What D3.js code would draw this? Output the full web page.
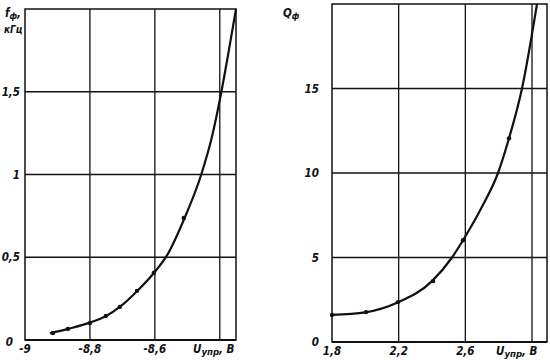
<!DOCTYPE html>
<html><head><meta charset="utf-8">
<script src="https://cdn.jsdelivr.net/npm/d3@7"></script>
<style>
html,body{margin:0;padding:0;background:#fff;}
text{font-family:"DejaVu Sans Condensed","Liberation Sans Narrow",sans-serif;font-style:italic;font-weight:bold;fill:#111;}
</style></head>
<body><svg id="c" width="550" height="361"></svg>
<script>
// ---- Left panel: f_ф (кГц) vs U_упр (В)
const leftCurveX = [-8.923,-8.868,-8.8,-8.75,-8.708,-8.655,-8.603,-8.56,-8.511,-8.457,-8.425,-8.395,-8.372,-8.35];
const leftCurveY = [0.04,0.067,0.105,0.145,0.20,0.295,0.405,0.52,0.725,1.0,1.22,1.5,1.75,2.0];
const leftDotX = [-8.914,-8.868,-8.8,-8.751,-8.708,-8.655,-8.603,-8.511];
const leftDotY = [0.042,0.067,0.103,0.145,0.20,0.297,0.406,0.737];
const leftXTicks = [-9,-8.8,-8.6];
const leftXGrid = [-8.8,-8.6,-8.4];
const leftYTicks = [0,0.5,1,1.5];
const leftYGrid = [0.5,1,1.5];

// ---- Right panel: Q_ф vs U_упр (В)
const rightCurveX = [1.8,2.0,2.2,2.4,2.52,2.586,2.70,2.796,2.862,2.94,3.03];
const rightCurveY = [1.6,1.75,2.36,3.6,5.0,6.02,8.0,10.0,12.05,15.0,20.0];
const rightDotX = [1.8,2.004,2.196,2.406,2.586,2.862];
const rightDotY = [1.6,1.77,2.36,3.6,6.02,12.05];
const rightXTicks = [1.8,2.2,2.6];
const rightXGrid = [2.2,2.6,3.0];
const rightYTicks = [0,5,10,15];
const rightYGrid = [5,10,15];

const loc = d3.formatLocale({decimal:",",thousands:" ",grouping:[3],currency:["",""],minus:"-"});
const fmt = v => loc.format("~g")(v);
const svg = d3.select("#c");

function panel(o){
  const x = d3.scaleLinear().domain(o.xd).range(o.xr);
  const y = d3.scaleLinear().domain(o.yd).range(o.yr);
  const g = svg.append("g");
  const [x0,x1] = o.xr, [y0,y1] = o.yr;
  g.selectAll(".gx").data(o.xGrid).join("line")
    .attr("x1",d=>x(d)).attr("x2",d=>x(d)).attr("y1",y0).attr("y2",y1)
    .attr("stroke","#111").attr("stroke-width",1.3);
  g.selectAll(".gy").data(o.yGrid).join("line")
    .attr("x1",x0).attr("x2",x1).attr("y1",d=>y(d)).attr("y2",d=>y(d))
    .attr("stroke","#111").attr("stroke-width",1.3);
  g.append("rect").attr("x",x0).attr("y",y1).attr("width",x1-x0).attr("height",y0-y1)
    .attr("fill","none").attr("stroke","#111").attr("stroke-width",1.5);
  g.append("line").attr("x1",x0).attr("x2",x1).attr("y1",y0).attr("y2",y0)
    .attr("stroke","#111").attr("stroke-width",2.2);
  const line = d3.line().x(d=>x(d[0])).y(d=>y(d[1])).curve(d3.curveMonotoneX);
  g.append("path").datum(d3.zip(o.cx,o.cy)).attr("d",line)
    .attr("fill","none").attr("stroke","#111").attr("stroke-width",2.2);
  g.selectAll(".dot").data(d3.zip(o.dx,o.dy)).join("circle")
    .attr("cx",d=>x(d[0])).attr("cy",d=>y(d[1])).attr("r",2.2).attr("fill","#111");
  g.selectAll(".tx").data(o.xTicks).join("text")
    .attr("x",d=>x(d)).attr("y",y0+13).attr("text-anchor","middle")
    .attr("font-size",11.5).text(d=>fmt(d));
  g.selectAll(".ty").data(o.yTicks).join("text")
    .attr("x",d=>o.yLabX + (d===0?o.zeroDx:0)).attr("y",d=>y(d)+4+(d===0?o.zeroDy:0)).attr("text-anchor","end")
    .attr("font-size",11.5).text(d=>fmt(d));
  const t = g.append("text").attr("x",o.xTitleX).attr("y",y0+13).attr("font-size",11.5);
  t.append("tspan").text("U");
  t.append("tspan").attr("font-size",9.5).attr("dy",2).text("упр");
  t.append("tspan").attr("dy",-2).text(", В");
  return {x,y,g};
}

panel({xd:[-9,-8.35],xr:[25,236],yd:[0,2],yr:[340,9],
  xGrid:leftXGrid,yGrid:leftYGrid,xTicks:leftXTicks,yTicks:leftYTicks,
  cx:leftCurveX,cy:leftCurveY,dx:leftDotX,dy:leftDotY,yLabX:20,zeroDx:-7,zeroDy:2,xTitleX:193});
panel({xd:[1.8,3.09],xr:[332,547],yd:[0,20],yr:[342,4],
  xGrid:rightXGrid,yGrid:rightYGrid,xTicks:rightXTicks,yTicks:rightYTicks,
  cx:rightCurveX,cy:rightCurveY,dx:rightDotX,dy:rightDotY,yLabX:319,zeroDx:0,zeroDy:0,xTitleX:496});

const ft = svg.append("text").attr("x",5).attr("y",17).attr("font-size",11.5);
ft.append("tspan").text("f");
ft.append("tspan").attr("font-size",8.5).attr("dy",2).text("ф");
ft.append("tspan").attr("dy",-2).text(",");
svg.append("text").attr("x",4).attr("y",33).attr("font-size",10).text("кГц");
const qt = svg.append("text").attr("x",283).attr("y",17).attr("font-size",11.5);
qt.append("tspan").text("Q");
qt.append("tspan").attr("font-size",8.5).attr("dy",2).text("ф");
</script></body></html>
